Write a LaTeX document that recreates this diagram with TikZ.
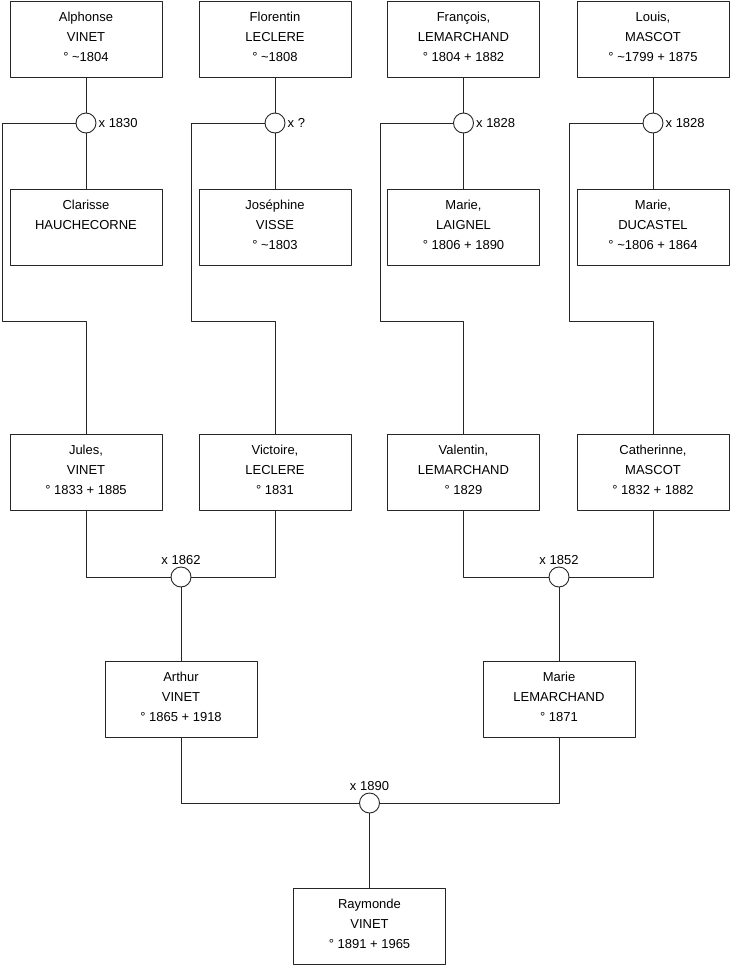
\documentclass[tikz,border=0pt]{standalone}
\usepackage{fontspec}
\setmainfont{Liberation Sans}
\begin{document}
\begin{tikzpicture}[x=1pt, y=-1pt, line cap=round, line join=round,
  person/.style={draw=black!85, line width=0.9pt, minimum width=152, minimum height=76,
    inner sep=0pt, align=center, text depth=5pt, font=\fontsize{13}{20}\selectfont},
  wedding/.style={circle, draw=black!85, line width=0.9pt, fill=white, minimum size=20,
    inner sep=0pt, label distance=1pt},
  link/.style={draw=black!85, line width=0.9pt},
  every label/.style={font=\fontsize{13}{16}\selectfont, inner sep=2pt}]

\useasboundingbox (0,0) rectangle (740,975);

% Parameters
\def\yA{39}     % first generation
\def\yW{123}    % first weddings
\def\yB{227}    % spouses
\def\yK{321}    % bends
\def\yC{472.5}  % second generation
\def\yV{577}    % second weddings
\def\yD{699.5}  % third generation
\def\yX{803}    % last wedding
\def\yE{926}    % last child

% --- First generation ---
\node[person] (alphonse)  at (86,\yA)    {Alphonse\\VINET\\° \textasciitilde1804};
\node[person] (florentin) at (275,\yA)   {Florentin\\LECLERE\\° \textasciitilde1808};
\node[person] (francois)  at (463.5,\yA) {François,\\LEMARCHAND\\° 1804 + 1882};
\node[person] (louis)     at (653,\yA)   {Louis,\\MASCOT\\° \textasciitilde1799 + 1875};

% --- Weddings ---
\node[wedding, label=right:{x 1830}] (wa) at (86,\yW) {};
\node[wedding, label=right:{x ?}]    (wb) at (275,\yW) {};
\node[wedding, label=right:{x 1828}] (wc) at (463.5,\yW) {};
\node[wedding, label=right:{x 1828}] (wd) at (653,\yW) {};

% --- Spouses ---
\node[person] (clarisse)  at (86,\yB)    {Clarisse\\HAUCHECORNE\\\strut};
\node[person] (josephine) at (275,\yB)   {Joséphine\\VISSE\\° \textasciitilde1803};
\node[person] (laignel)   at (463.5,\yB) {Marie,\\LAIGNEL\\° 1806 + 1890};
\node[person] (ducastel)  at (653,\yB)   {Marie,\\DUCASTEL\\° \textasciitilde1806 + 1864};

% --- Second generation ---
\node[person] (jules)      at (86,\yC)    {Jules,\\VINET\\° 1833 + 1885};
\node[person] (victoire)   at (275,\yC)   {Victoire,\\LECLERE\\° 1831};
\node[person] (valentin)   at (463.5,\yC) {Valentin,\\LEMARCHAND\\° 1829};
\node[person] (catherinne) at (653,\yC)   {Catherinne,\\MASCOT\\° 1832 + 1882};

% bends of the children lines
\coordinate (ka) at (2,\yK);
\coordinate (kb) at (191,\yK);
\coordinate (kc) at (380,\yK);
\coordinate (kd) at (569,\yK);

\foreach \up/\w/\sp/\k/\kid in {alphonse/wa/clarisse/ka/jules,
                                florentin/wb/josephine/kb/victoire,
                                francois/wc/laignel/kc/valentin,
                                louis/wd/ducastel/kd/catherinne}{
  \draw[link] (\up.south) -- (\w.north);
  \draw[link] (\w.south) -- (\sp.north);
  \draw[link] (\w.west) -| (\k) -| (\kid.north);
}

% --- Second weddings ---
\node[wedding, label=above:{x 1862}] (we) at (181,\yV) {};
\node[wedding, label=above:{x 1852}] (wf) at (559,\yV) {};

\draw[link] (jules.south) |- (we.west);
\draw[link] (victoire.south) |- (we.east);
\draw[link] (valentin.south) |- (wf.west);
\draw[link] (catherinne.south) |- (wf.east);

% --- Third generation ---
\node[person] (arthur) at (181,\yD) {Arthur\\VINET\\° 1865 + 1918};
\node[person] (marie)  at (559,\yD) {Marie\\LEMARCHAND\\° 1871};

\draw[link] (we.south) -- (arthur.north);
\draw[link] (wf.south) -- (marie.north);

% --- Last wedding ---
\node[wedding, label=above:{x 1890}] (wg) at (369.5,\yX) {};
\draw[link] (arthur.south) |- (wg.west);
\draw[link] (marie.south) |- (wg.east);

\node[person] (raymonde) at (369.5,\yE) {Raymonde\\VINET\\° 1891 + 1965};
\draw[link] (wg.south) -- (raymonde.north);

\end{tikzpicture}
\end{document}
